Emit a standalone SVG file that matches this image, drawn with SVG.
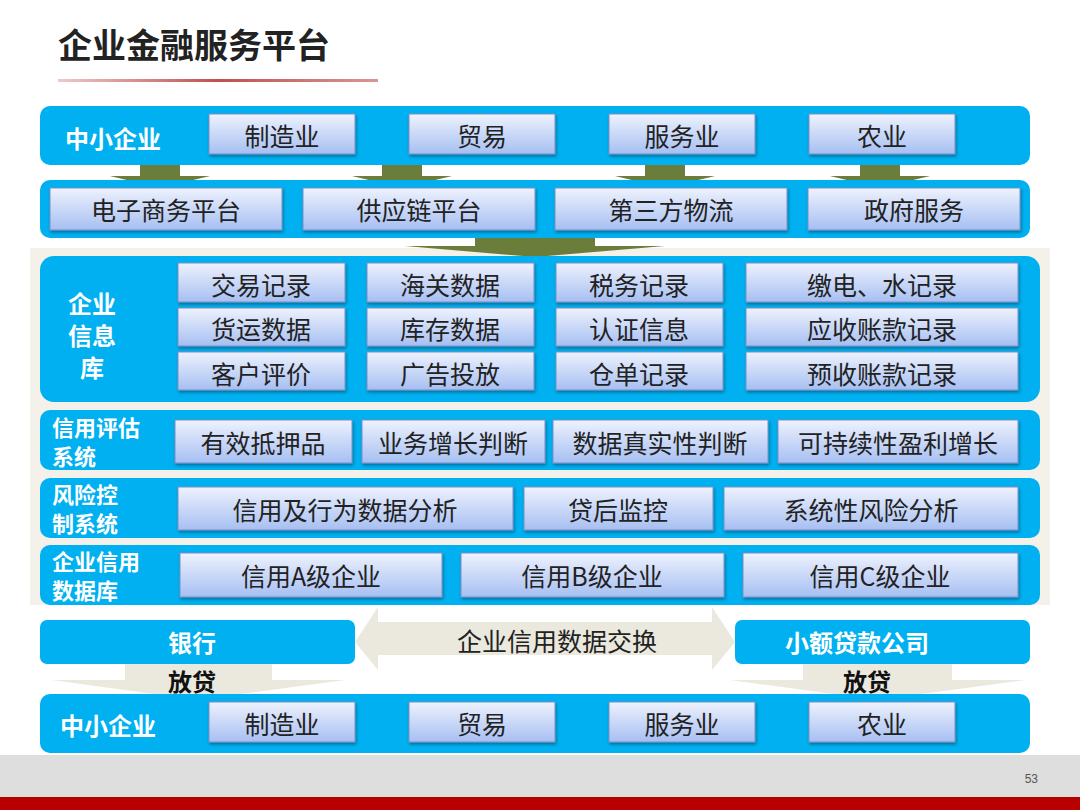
<svg xmlns="http://www.w3.org/2000/svg" width="1080" height="810" viewBox="0 0 1080 810">
<defs>
<linearGradient id="bx" x1="0" y1="0" x2="0" y2="1"><stop offset="0" stop-color="#eef2fd"/><stop offset="1" stop-color="#a6bff2"/></linearGradient>
<linearGradient id="rl" x1="0" y1="0" x2="1" y2="0"><stop offset="0" stop-color="#c0504d" stop-opacity="0.3"/><stop offset="0.5" stop-color="#c0504d"/><stop offset="1" stop-color="#c0504d" stop-opacity="0.6"/></linearGradient>
<filter id="sh" x="-10%" y="-20%" width="130%" height="150%"><feDropShadow dx="1" dy="2" stdDeviation="1.5" flood-color="#000" flood-opacity="0.35"/></filter>
</defs>
<style>
.band{fill:#00b0f0}
.box{fill:url(#bx);stroke:#7b8fc4;stroke-width:1;filter:url(#sh)}
.t{font-family:"Noto Sans CJK SC",sans-serif;font-size:25px;fill:#222;text-anchor:middle;dominant-baseline:central}
.w{font-family:"Noto Sans CJK SC",sans-serif;font-size:24px;font-weight:bold;fill:#fff;dominant-baseline:central}
.s{font-size:22px}
.g{fill:#6b7d3a}
.bg{fill:#ebe8de}
</style>
<rect width="1080" height="810" fill="#fff"/>
<rect x="0" y="755" width="1080" height="43" fill="#dedede"/>
<rect x="0" y="797" width="1080" height="13" fill="#b80000"/>
<text x="1038" y="783" font-family="Liberation Sans,sans-serif" font-size="12" fill="#555" text-anchor="end">53</text>
<text x="58" y="58" font-family="Noto Sans CJK SC,sans-serif" font-size="34" font-weight="bold" fill="#222">企业金融服务平台</text>
<rect x="58" y="79" width="320" height="3" fill="url(#rl)"/>
<rect x="30" y="248" width="1020" height="357" fill="#f3f1ea"/>

<g id="connectors">
<polygon class="g" points="140,165 180,165 180,176 210,176 160,188 110,176 140,176"/>
<polygon class="g" points="382,165 422,165 422,176 452,176 402,188 352,176 382,176"/>
<polygon class="g" points="645,165 685,165 685,176 715,176 665,188 615,176 645,176"/>
<polygon class="g" points="860,165 900,165 900,176 930,176 880,188 830,176 860,176"/>
<polygon class="g" points="475,236 595,236 595,246 665,246 535,257 405,246 475,246"/>
<polygon class="bg" points="355,642 378,607 378,622 712,622 712,607 735,642 712,670 712,655 378,655 378,670"/>
<polygon class="bg" points="125,658 272,658 272,680 345,680 197,700 52,680 125,680"/>
<polygon class="bg" points="803,658 952,658 952,680 1025,680 877,700 730,680 803,680"/>
</g>

<g id="row1">
<rect class="band" x="40" y="106" width="990" height="59" rx="10"/>
<text class="w" x="65" y="137">中小企业</text>
<rect class="box" x="209" y="114" width="146" height="40"/><text class="t" x="282" y="135">制造业</text>
<rect class="box" x="409" y="114" width="146" height="40"/><text class="t" x="482" y="135">贸易</text>
<rect class="box" x="609" y="114" width="146" height="40"/><text class="t" x="682" y="135">服务业</text>
<rect class="box" x="809" y="114" width="146" height="40"/><text class="t" x="882" y="135">农业</text>
</g>
<g id="row2">
<rect class="band" x="40" y="180" width="990" height="58" rx="10"/>
<rect class="box" x="50" y="188" width="232" height="42"/><text class="t" x="166" y="209">电子商务平台</text>
<rect class="box" x="303" y="188" width="232" height="42"/><text class="t" x="419" y="209">供应链平台</text>
<rect class="box" x="555" y="188" width="232" height="42"/><text class="t" x="671" y="209">第三方物流</text>
<rect class="box" x="808" y="188" width="212" height="42"/><text class="t" x="914" y="209">政府服务</text>
</g>
<g id="infodb">
<rect class="band" x="40" y="256" width="1000" height="146" rx="14"/>
<text class="w" x="92" y="302" text-anchor="middle">企业</text>
<text class="w" x="92" y="334" text-anchor="middle">信息</text>
<text class="w" x="92" y="366" text-anchor="middle">库</text>
<rect class="box" x="178" y="263" width="167" height="39"/><text class="t" x="261" y="284">交易记录</text>
<rect class="box" x="367" y="263" width="167" height="39"/><text class="t" x="450" y="284">海关数据</text>
<rect class="box" x="556" y="263" width="167" height="39"/><text class="t" x="639" y="284">税务记录</text>
<rect class="box" x="746" y="263" width="272" height="39"/><text class="t" x="882" y="284">缴电、水记录</text>
<rect class="box" x="178" y="308" width="167" height="38"/><text class="t" x="261" y="328">货运数据</text>
<rect class="box" x="367" y="308" width="167" height="38"/><text class="t" x="450" y="328">库存数据</text>
<rect class="box" x="556" y="308" width="167" height="38"/><text class="t" x="639" y="328">认证信息</text>
<rect class="box" x="746" y="308" width="272" height="38"/><text class="t" x="882" y="328">应收账款记录</text>
<rect class="box" x="178" y="352" width="167" height="38"/><text class="t" x="261" y="373">客户评价</text>
<rect class="box" x="367" y="352" width="167" height="38"/><text class="t" x="450" y="373">广告投放</text>
<rect class="box" x="556" y="352" width="167" height="38"/><text class="t" x="639" y="373">仓单记录</text>
<rect class="box" x="746" y="352" width="272" height="38"/><text class="t" x="882" y="373">预收账款记录</text>
</g>
<g id="credit">
<rect class="band" x="40" y="410" width="1000" height="60" rx="10"/>
<text class="w s" x="52" y="426">信用评估</text>
<text class="w s" x="52" y="455">系统</text>
<rect class="box" x="175" y="420" width="177" height="43"/><text class="t" x="263" y="442">有效抵押品</text>
<rect class="box" x="362" y="420" width="183" height="43"/><text class="t" x="453" y="442">业务增长判断</text>
<rect class="box" x="553" y="420" width="215" height="43"/><text class="t" x="660" y="442">数据真实性判断</text>
<rect class="box" x="778" y="420" width="240" height="43"/><text class="t" x="898" y="442">可持续性盈利增长</text>
</g>
<g id="risk">
<rect class="band" x="40" y="478" width="1000" height="60" rx="10"/>
<text class="w s" x="52" y="493">风险控</text>
<text class="w s" x="52" y="522">制系统</text>
<rect class="box" x="178" y="487" width="335" height="43"/><text class="t" x="345" y="509">信用及行为数据分析</text>
<rect class="box" x="524" y="487" width="189" height="43"/><text class="t" x="618" y="509">贷后监控</text>
<rect class="box" x="724" y="487" width="294" height="43"/><text class="t" x="871" y="509">系统性风险分析</text>
</g>
<g id="creditdb">
<rect class="band" x="40" y="545" width="1000" height="60" rx="10"/>
<text class="w s" x="52" y="560">企业信用</text>
<text class="w s" x="52" y="589">数据库</text>
<rect class="box" x="180" y="553" width="262" height="44"/><text class="t" x="311" y="575">信用A级企业</text>
<rect class="box" x="461" y="553" width="263" height="44"/><text class="t" x="592" y="575">信用B级企业</text>
<rect class="box" x="743" y="553" width="275" height="44"/><text class="t" x="880" y="575">信用C级企业</text>
</g>
<g id="bank">
<rect class="band" x="40" y="620" width="315" height="44" rx="7"/>
<text class="w" x="192" y="641" text-anchor="middle">银行</text>
</g>
<g id="exchange"><text class="t" x="557" y="640">企业信用数据交换</text></g>
<g id="microloan">
<rect class="band" x="735" y="620" width="295" height="44" rx="7"/>
<text class="w" x="857" y="641" text-anchor="middle">小额贷款公司</text>
</g>
<g id="lend">
<text class="w" x="192" y="680" text-anchor="middle" style="fill:#111">放贷</text>
<text class="w" x="867" y="680" text-anchor="middle" style="fill:#111">放贷</text>
</g>
<g id="row3">
<rect class="band" x="40" y="694" width="990" height="59" rx="10"/>
<text class="w" x="60" y="724">中小企业</text>
<rect class="box" x="209" y="702" width="146" height="40"/><text class="t" x="282" y="723">制造业</text>
<rect class="box" x="409" y="702" width="146" height="40"/><text class="t" x="482" y="723">贸易</text>
<rect class="box" x="609" y="702" width="146" height="40"/><text class="t" x="682" y="723">服务业</text>
<rect class="box" x="809" y="702" width="146" height="40"/><text class="t" x="882" y="723">农业</text>
</g>
</svg>
